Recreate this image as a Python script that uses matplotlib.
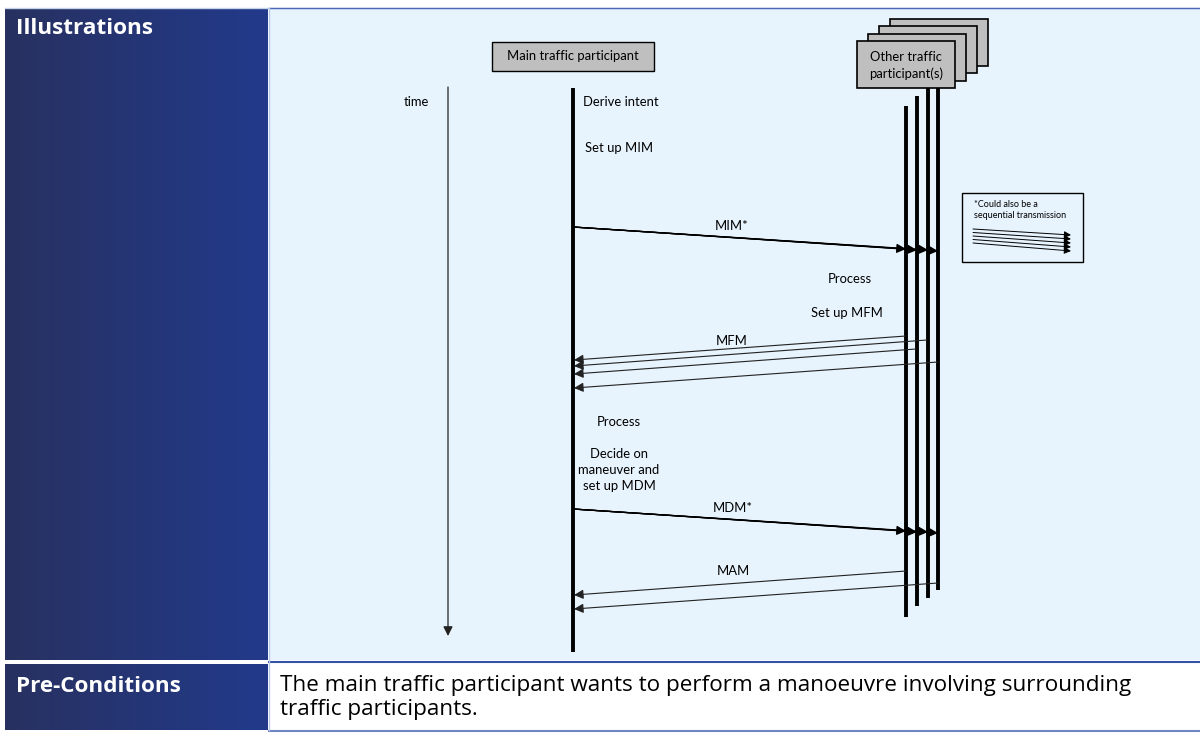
import matplotlib.pyplot as plt
import numpy as np
from matplotlib.colors import LinearSegmentedColormap
from matplotlib.patches import Rectangle

# table text
row_headers = ['Illustrations', 'Pre-Conditions']
precond_lines = ['The main traffic participant wants to perform a manoeuvre involving surrounding',
                 'traffic participants.']

# sequence diagram content (pixel coords, y grows downwards)
main_label = 'Main traffic participant'
other_label = 'Other traffic\nparticipant(s)'
main_x = 573
other_x = [906, 917, 928, 938]
other_top = [106, 96, 88, 88]
other_bottom = [617, 606, 598, 590]

# notes next to the main lifeline: (x, y, text, align)
notes = [(583, 102, 'Derive intent', 'left'),
         (585, 148, 'Set up MIM', 'left'),
         (850, 279, 'Process', 'center'),
         (847, 313, 'Set up MFM', 'center'),
         (597, 422, 'Process', 'left'),
         (619, 470, 'Decide on\nmaneuver and\nset up MDM', 'center')]

# broadcast messages (main -> others): start y, end y per lifeline
mim_start = 227
mim_end = [249, 250, 250, 251]
mdm_start = 509
mdm_end = [531, 532, 532, 533]
# replies (others -> main): (from x, from y, to y)
mfm = [(906, 336, 360), (927, 340, 366), (916, 349, 374), (938, 362, 388)]
mam = [(906, 571, 595), (938, 583, 609)]
msg_labels = [('MIM*', 732, 227), ('MFM', 732, 342), ('MDM*', 733, 509), ('MAM', 733, 572)]

# inset "sequential transmission"
inset_left_y = [229, 232.5, 236, 239.5, 243]
inset_right_y = [235, 239, 243, 247, 251]

DIAG_FONT = ['Lato', 'DejaVu Sans']
TAB_FONT = ['Open Sans', 'DejaVu Sans']
FS = 9.4

fig = plt.figure(figsize=(12, 7.36), dpi=100)
ax = fig.add_axes([0, 0, 1, 1])
ax.set_xlim(0, 1200)
ax.set_ylim(736, 0)
ax.axis('off')

navy = LinearSegmentedColormap.from_list('navy', ['#283160', '#223a8b'])
grad = np.linspace(0, 1, 256).reshape(1, -1)
ax.imshow(grad, extent=[5, 268, 660, 8], cmap=navy, aspect='auto', zorder=0)
ax.imshow(grad, extent=[5, 268, 730, 664], cmap=navy, aspect='auto', zorder=0)
ax.add_patch(Rectangle((269, 8), 931, 652, facecolor='#e8f4fd', edgecolor='none', zorder=0))

ax.plot([5, 1200], [7.5, 7.5], color='#c5d3ea', lw=1)
ax.plot([269, 1200], [8, 8], color='#4a68b5', lw=1)
ax.plot([269, 1200], [662, 662], color='#3553a6', lw=1.5)
ax.plot([269, 1200], [731, 731], color='#6f86c2', lw=1.5)
ax.plot([268.5, 268.5], [8, 730], color='#b8c8e6', lw=1)

ax.text(16, 28, row_headers[0], color='white', fontsize=16.2, fontweight='bold',
        family=TAB_FONT, va='center', ha='left')
ax.text(16, 686, row_headers[1], color='white', fontsize=16.2, fontweight='bold',
        family=TAB_FONT, va='center', ha='left')
for i, line in enumerate(precond_lines):
    ax.text(280, 686 + 23 * i, line, color='black', fontsize=16.2,
            family=TAB_FONT, va='center', ha='left')

# participant boxes
ax.add_patch(Rectangle((492, 42), 162, 29, facecolor='#bfbfbf', edgecolor='black', lw=1, zorder=3))
ax.text(573, 56.5, main_label, fontsize=FS, family=DIAG_FONT, ha='center', va='center', zorder=4)
for k in range(3, -1, -1):
    ax.add_patch(Rectangle((857 + 11 * k, 41 - 7.5 * k), 98, 47,
                           facecolor='#bfbfbf', edgecolor='black', lw=1.2, zorder=3))
ax.text(906, 65.5, other_label, fontsize=FS, family=DIAG_FONT, ha='center', va='center',
        linespacing=1.4, zorder=4)

# lifelines
ax.plot([main_x, main_x], [88, 652], color='black', lw=2.8, solid_capstyle='butt', zorder=2)
for x, t, b in zip(other_x, other_top, other_bottom):
    ax.plot([x, x], [t, b], color='black', lw=2.8, solid_capstyle='butt', zorder=2)

# time axis
ax.annotate('', xy=(448, 636), xytext=(448, 87),
            arrowprops=dict(arrowstyle='-|>', color='#222222', lw=0.9, mutation_scale=14,
                            shrinkA=0, shrinkB=0))
ax.text(416, 102, 'time', fontsize=FS, family=DIAG_FONT, ha='center', va='center')

for x, y, s, al in notes:
    ax.text(x, y, s, fontsize=FS, family=DIAG_FONT, ha=al, va='center', linespacing=1.45)


def arrow(x0, y0, x1, y1, lw=0.9, color='black'):
    ax.annotate('', xy=(x1, y1), xytext=(x0, y0),
                arrowprops=dict(arrowstyle='-|>', color=color, lw=lw, mutation_scale=14,
                                shrinkA=0, shrinkB=0), zorder=3)


for ye, x in zip(mim_end, other_x):
    arrow(main_x, mim_start, x, ye)
for ye, x in zip(mdm_end, other_x):
    arrow(main_x, mdm_start, x, ye)
for x, y0, y1 in mfm + mam:
    arrow(x, y0, main_x + 1, y1, lw=0.8, color='#222222')

for s, x, y in msg_labels:
    ax.text(x, y - 1, s, fontsize=FS, family=DIAG_FONT, ha='center', va='center')

# inset
ax.add_patch(Rectangle((962, 193), 121, 69, facecolor='none', edgecolor='black', lw=1, zorder=3))
ax.text(974, 210, '*Could also be a\nsequential transmission', fontsize=6.5, family=DIAG_FONT,
        ha='left', va='center', linespacing=1.3)
for yl, yr in zip(inset_left_y, inset_right_y):
    ax.annotate('', xy=(1071, yr), xytext=(973, yl),
                arrowprops=dict(arrowstyle='-|>', color='black', lw=0.7, mutation_scale=10,
                                shrinkA=0, shrinkB=0))

fig.savefig('out.png', dpi=100)
